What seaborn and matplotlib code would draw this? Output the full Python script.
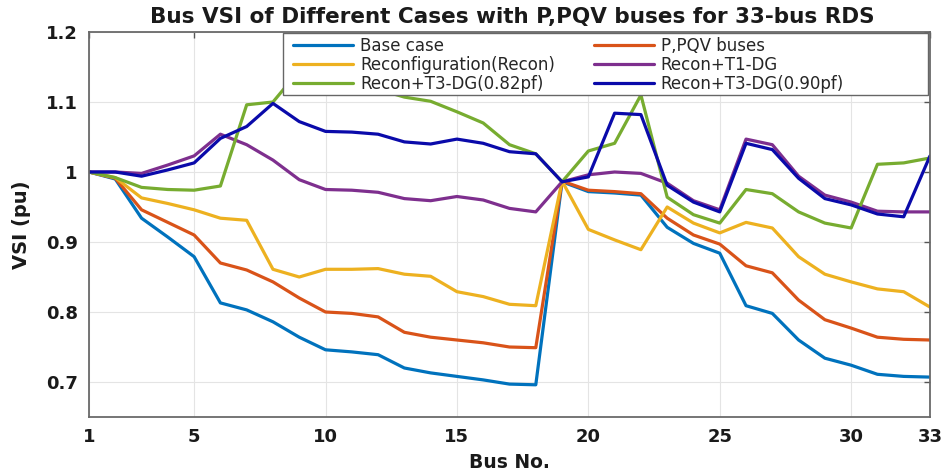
import matplotlib
matplotlib.use("Agg")
import matplotlib.pyplot as plt
from matplotlib.patches import Rectangle
import seaborn as sns
import pandas as pd

# Bus numbers of the 33-bus radial distribution system
buses = list(range(1, 34))

base_case = [1.000, 0.990, 0.934, 0.907, 0.879, 0.813, 0.803, 0.786, 0.764, 0.746, 0.743,
             0.739, 0.720, 0.713, 0.708, 0.703, 0.697, 0.696, 0.986, 0.972, 0.970, 0.967,
             0.921, 0.898, 0.884, 0.809, 0.798, 0.760, 0.734, 0.724, 0.711, 0.708, 0.707]
p_pqv = [1.000, 0.991, 0.946, 0.928, 0.910, 0.870, 0.860, 0.843, 0.820, 0.800, 0.798,
         0.793, 0.771, 0.764, 0.760, 0.756, 0.750, 0.749, 0.987, 0.974, 0.972, 0.969,
         0.934, 0.910, 0.897, 0.866, 0.856, 0.817, 0.789, 0.777, 0.764, 0.761, 0.760]
recon = [1.000, 0.992, 0.963, 0.955, 0.946, 0.934, 0.931, 0.861, 0.850, 0.861, 0.861,
         0.862, 0.854, 0.851, 0.829, 0.822, 0.811, 0.809, 0.987, 0.918, 0.903, 0.889,
         0.950, 0.927, 0.913, 0.928, 0.920, 0.879, 0.854, 0.843, 0.833, 0.829, 0.807]
recon_t1 = [1.000, 1.000, 0.998, 1.010, 1.023, 1.054, 1.039, 1.017, 0.989, 0.975, 0.974,
            0.971, 0.962, 0.959, 0.965, 0.960, 0.948, 0.943, 0.986, 0.996, 1.000, 0.998,
            0.984, 0.959, 0.946, 1.047, 1.039, 0.994, 0.967, 0.957, 0.944, 0.943, 0.943]
recon_t3_082 = [1.000, 0.992, 0.978, 0.975, 0.974, 0.980, 1.096, 1.100, 1.145, 1.138, 1.130,
                1.118, 1.107, 1.101, 1.086, 1.070, 1.039, 1.026, 0.986, 1.030, 1.041, 1.110,
                0.964, 0.939, 0.927, 0.975, 0.969, 0.943, 0.927, 0.920, 1.011, 1.013, 1.020]
recon_t3_090 = [1.000, 1.000, 0.994, 1.003, 1.013, 1.048, 1.065, 1.098, 1.072, 1.058, 1.057,
                1.054, 1.043, 1.040, 1.047, 1.041, 1.029, 1.026, 0.986, 0.993, 1.084, 1.082,
                0.981, 0.957, 0.943, 1.041, 1.032, 0.991, 0.962, 0.953, 0.940, 0.936, 1.023]

case_names = ["Base case", "P,PQV buses", "Reconfiguration(Recon)", "Recon+T1-DG",
              "Recon+T3-DG(0.82pf)", "Recon+T3-DG(0.90pf)"]
case_values = [base_case, p_pqv, recon, recon_t1, recon_t3_082, recon_t3_090]
case_colors = ["#0072BD", "#D95319", "#EDB120", "#7E2F8E", "#77AC30", "#0A0AAA"]

x_ticks = [1, 5, 10, 15, 20, 25, 30, 33]
y_ticks = [0.7, 0.8, 0.9, 1.0, 1.1, 1.2]
y_tick_labels = ["0.7", "0.8", "0.9", "1", "1.1", "1.2"]

df = pd.DataFrame({
    "Bus": buses * len(case_names),
    "VSI": [v for vals in case_values for v in vals],
    "Case": [name for name in case_names for _ in buses],
})

sns.set_style("white")
plt.rcParams["font.family"] = ["DejaVu Sans"]

fig = plt.figure(figsize=(9.45, 4.76), dpi=100)
ax = fig.add_axes([89 / 945, 59 / 476, 841 / 945, 385 / 476])

sns.lineplot(data=df, x="Bus", y="VSI", hue="Case", hue_order=case_names,
             palette=dict(zip(case_names, case_colors)), linewidth=2.3,
             ax=ax, legend=False, sort=False)

ax.set_xlim(1, 33)
ax.set_ylim(0.65, 1.2)
ax.set_xticks(x_ticks)
ax.set_xticklabels([str(t) for t in x_ticks], fontweight="bold", fontsize=13)
ax.set_yticks(y_ticks)
ax.set_yticklabels(y_tick_labels, fontweight="bold", fontsize=13)
ax.tick_params(direction="in", top=True, right=True, length=4, width=1,
               color="#555555", labelcolor="#1a1a1a", pad=8)
ax.grid(True, color="#e4e4e4", linewidth=0.8)
for sp in ax.spines.values():
    sp.set_color("#6a6a6a")
    sp.set_linewidth(1.3)

ax.set_xlabel("Bus No.", fontweight="bold", fontsize=13.5, color="#1a1a1a")
ax.set_ylabel("VSI (pu)", fontweight="bold", fontsize=14, color="#1a1a1a")
ax.xaxis.set_label_coords(0.5, -(453 - 417) / 385)
ax.yaxis.set_label_coords(-(89 - 31) / 841, 0.5)

fig.text(512 / 945, 1 - 17 / 476,
         "Bus VSI of Different Cases with P,PQV buses for 33-bus RDS",
         ha="center", va="center", fontweight="bold", fontsize=15.5, color="#1a1a1a")

# Legend box spanning from the legend's left edge to the right spine
box = Rectangle((283 / 945, 1 - 95 / 476), (928 - 283) / 945, (95 - 33) / 476,
                transform=fig.transFigure, facecolor="white", edgecolor="#666666",
                linewidth=1.0, zorder=4, clip_on=False)
ax.add_patch(box)

lines = ax.get_lines()
order = [0, 2, 4, 1, 3, 5]
leg = ax.legend([lines[i] for i in order], [case_names[i] for i in order], ncol=2,
                loc="upper left", bbox_to_anchor=(290 / 945, 1 - 34 / 476),
                bbox_transform=fig.transFigure, frameon=False, fontsize=12,
                handlelength=3.6, handletextpad=0.42, columnspacing=2.3,
                labelspacing=0.05, borderpad=0.2, borderaxespad=0)
leg.set_zorder(5)

fig.savefig("out.png", dpi=100)
